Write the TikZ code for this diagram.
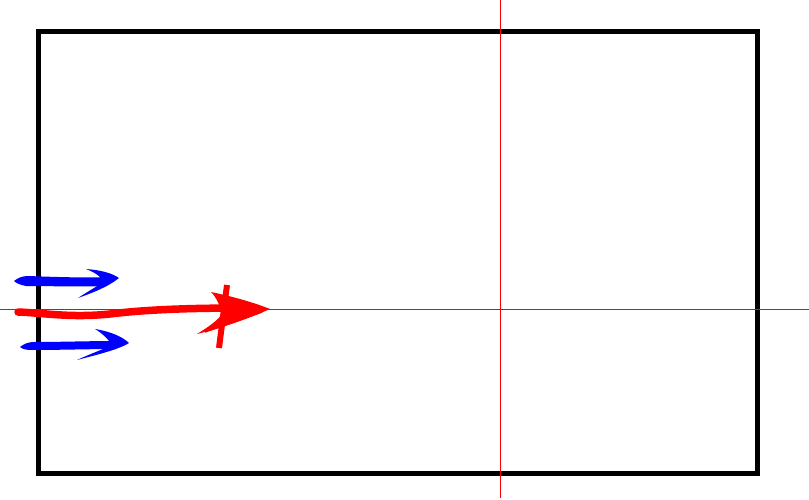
\documentclass[tikz,border=0pt]{standalone}
\usepackage{tikz}
\tikzset{
  frame/.style={draw=black, line width=5pt},
  axisline/.style={draw=red, line width=0.8pt},
  bluebrush/.style={fill=blue},
  redbrush/.style={draw=red, line width=7.5pt, line cap=round},
  redhead/.style={fill=red}
}

\begin{document}
\begin{tikzpicture}[x=1pt, y=-1pt]
  \useasboundingbox (0,0) rectangle (809,500);

  % box
  \draw[frame] (38,32) rectangle (757,473);

  % centre lines
  \coordinate (vtop) at (500,0);
  \coordinate (vbot) at (500,498);
  \coordinate (hleft) at (0,309);
  \coordinate (hright) at (809,309);
  \draw[axisline] (vtop) -- (vbot);
  \draw[axisline] (hleft) -- (hright);

  % upper blue arrow
  \fill[bluebrush] (14,281) .. controls (18,278) and (22,276) .. (28,276)
    .. controls (55,277) and (85,278) .. (107,277) -- (107,286)
    .. controls (80,287) and (50,286) .. (26,286) .. controls (20,285) and (16,283) .. (14,281) -- cycle;
  \fill[bluebrush] (86,269) .. controls (100,270) and (112,273) .. (119,278)
    .. controls (108,287) and (92,293) .. (78,298)
    .. controls (90,290) and (100,285) .. (104,281)
    .. controls (100,276) and (94,272) .. (86,269) -- cycle;

  % lower blue arrow
  \fill[bluebrush] (20,347) .. controls (24,344) and (28,342) .. (34,342)
    .. controls (60,342) and (90,341) .. (116,341) -- (116,349)
    .. controls (90,349) and (60,350) .. (32,350) .. controls (26,350) and (22,349) .. (20,347) -- cycle;
  \fill[bluebrush] (95,329) .. controls (108,331) and (122,336) .. (129,343)
    .. controls (118,350) and (92,356) .. (77,360)
    .. controls (90,354) and (104,349) .. (112,345)
    .. controls (108,339) and (102,333) .. (95,329) -- cycle;

  % red arrow
  \draw[redbrush] (18,312) .. controls (45,313) and (70,318) .. (110,314)
    .. controls (150,309) and (200,308) .. (245,308);
  \fill[redhead] (211,292) .. controls (235,297) and (255,303) .. (270,309)
    .. controls (250,318) and (222,328) .. (197,334)
    .. controls (210,326) and (218,320) .. (222,314)
    .. controls (220,305) and (216,297) .. (211,292) -- cycle;
  \draw[red, line width=6pt] (227,285) -- (219,348);
  \draw[red, line width=1.5pt] (205,332) -- (262,312);
\end{tikzpicture}
\end{document}
